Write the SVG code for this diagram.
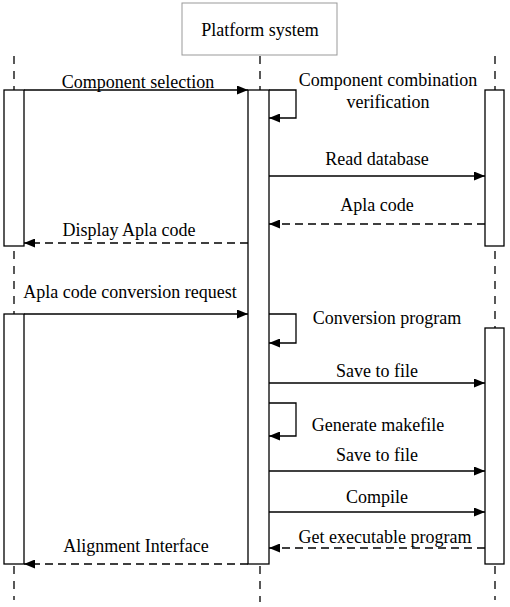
<svg xmlns="http://www.w3.org/2000/svg" width="510" height="607" viewBox="0 0 510 607">
<style>
text{font-family:"Liberation Serif","Times New Roman",serif;font-size:18px;fill:#000;text-anchor:middle}
.life{stroke:#000;stroke-width:1.3;stroke-dasharray:8,7;fill:none}
.bar{fill:#fff;stroke:#000;stroke-width:1.3}
.msg{stroke:#000;stroke-width:1.3;fill:none;marker-end:url(#ah)}
.ret{stroke:#000;stroke-width:1.3;fill:none;stroke-dasharray:8,5;marker-end:url(#ah)}
</style>
<defs>
<marker id="ah" markerUnits="userSpaceOnUse" markerWidth="11" markerHeight="9" refX="11" refY="4.5" orient="auto">
<path d="M0,0 L11,4.5 L0,9 z" fill="#000"/>
</marker>
</defs>
<rect width="510" height="607" fill="#fff"/>
<g id="lifelines">
<line class="life" x1="14" y1="56" x2="14" y2="600"/>
<line class="life" x1="260" y1="56" x2="260" y2="602"/>
<line class="life" x1="495" y1="56" x2="495" y2="600"/>
</g>
<g id="platform">
<rect x="182" y="3" width="155" height="52" fill="#fff" stroke="#999" stroke-width="1"/>
<text x="260" y="36">Platform system</text>
</g>
<g id="activations">
<rect class="bar" x="4" y="90" width="20" height="156"/>
<rect class="bar" x="248" y="90" width="21" height="474"/>
<rect class="bar" x="485" y="90" width="19" height="156"/>
<rect class="bar" x="4" y="314" width="20" height="250"/>
<rect class="bar" x="485" y="328" width="19" height="236"/>
</g>
<g id="connectors">
<line class="msg" x1="24" y1="90" x2="248" y2="90"/>
<polyline class="msg" points="269,90 296,90 296,118 269,118"/>
<line class="msg" x1="269" y1="176" x2="485" y2="176"/>
<line class="ret" x1="485" y1="224" x2="269" y2="224"/>
<line class="ret" x1="248" y1="243" x2="24" y2="243"/>
<line class="msg" x1="24" y1="314" x2="248" y2="314"/>
<polyline class="msg" points="269,314 296,314 296,343 269,343"/>
<line class="msg" x1="269" y1="383" x2="485" y2="383"/>
<polyline class="msg" points="269,403 296,403 296,436 269,436"/>
<line class="msg" x1="269" y1="471" x2="485" y2="471"/>
<line class="msg" x1="269" y1="512" x2="485" y2="512"/>
<line class="ret" x1="485" y1="548" x2="269" y2="548"/>
<line class="ret" x1="248" y1="564" x2="24" y2="564"/>
</g>
<g id="labels">
<text x="138" y="88">Component selection</text>
<text x="388" y="86">Component combination</text>
<text x="388" y="108">verification</text>
<text x="377" y="165">Read database</text>
<text x="377" y="211">Apla code</text>
<text x="129" y="236">Display Apla code</text>
<text x="130" y="298">Apla code conversion request</text>
<text x="387" y="324">Conversion program</text>
<text x="377" y="377">Save to file</text>
<text x="378" y="431">Generate makefile</text>
<text x="377" y="461">Save to file</text>
<text x="377" y="503">Compile</text>
<text x="385" y="543">Get executable program</text>
<text x="136" y="552">Alignment Interface</text>
</g>
</svg>
